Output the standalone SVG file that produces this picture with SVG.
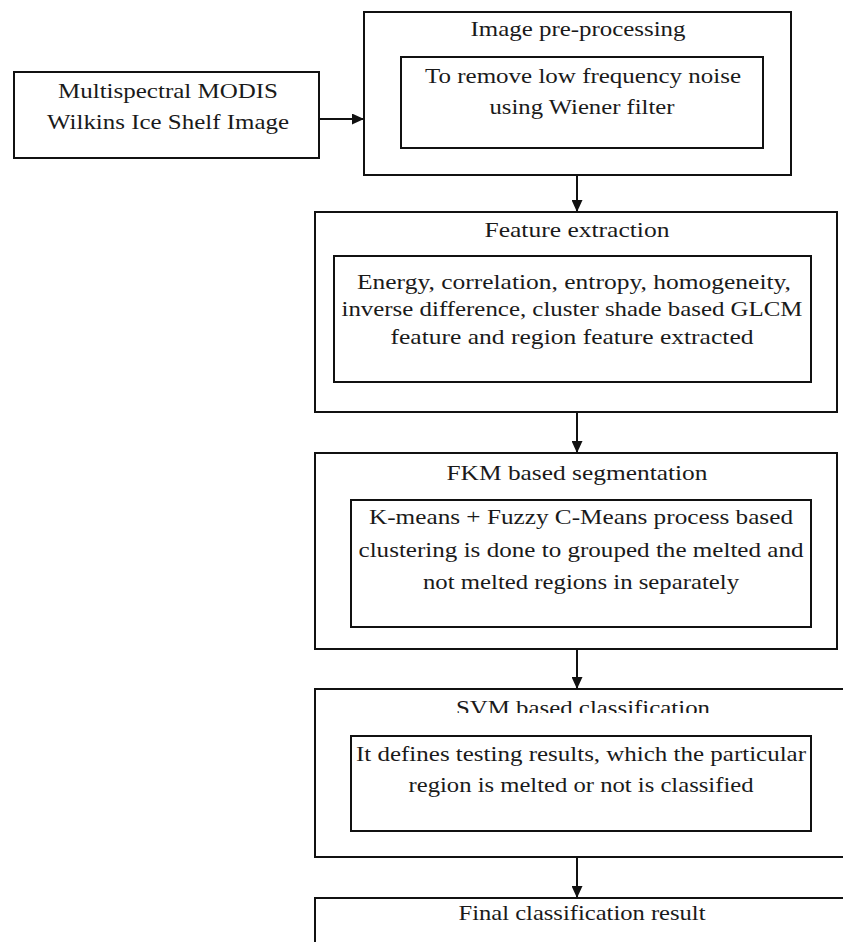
<svg xmlns="http://www.w3.org/2000/svg" width="843" height="942" viewBox="0 0 843 942">
  <style>
    .box { fill: none; stroke: #111; stroke-width: 2; }
    .t { font-family: "Liberation Serif", "Times New Roman", serif; font-size: 22px; fill: #1a1a1a; text-anchor: middle; }
    .edge { stroke: #111; stroke-width: 2; fill: none; }
  </style>
  <defs>
    <marker id="arrow" viewBox="0 0 12 11" refX="12" refY="5.5" markerWidth="12" markerHeight="11" markerUnits="userSpaceOnUse" orient="auto">
      <path d="M0,0 L12,5.5 L0,11 Z" fill="#111"/>
    </marker>
    <clipPath id="svmclip">
      <rect x="315" y="689" width="528" height="24"/>
    </clipPath>
  </defs>
  <rect width="843" height="942" fill="#ffffff"/>

  <g id="input">
    <rect class="box" x="14" y="72" width="305" height="86"/>
    <text class="t" x="168" y="98" textLength="220" lengthAdjust="spacingAndGlyphs">Multispectral MODIS</text>
    <text class="t" x="168" y="129" textLength="242" lengthAdjust="spacingAndGlyphs">Wilkins  Ice Shelf Image</text>
  </g>

  <g id="preprocessing">
    <rect class="box" x="364" y="12" width="427" height="163"/>
    <text class="t" x="578" y="36" textLength="215" lengthAdjust="spacingAndGlyphs">Image pre-processing</text>
    <rect class="box" x="401" y="57" width="362" height="91"/>
    <text class="t" x="583" y="83" textLength="316" lengthAdjust="spacingAndGlyphs">To remove low frequency noise</text>
    <text class="t" x="582" y="114" textLength="185" lengthAdjust="spacingAndGlyphs">using Wiener  filter</text>
  </g>

  <g id="feature-extraction">
    <rect class="box" x="315" y="212" width="522" height="200"/>
    <text class="t" x="577" y="237" textLength="185" lengthAdjust="spacingAndGlyphs">Feature extraction</text>
    <rect class="box" x="334" y="256" width="477" height="126"/>
    <text class="t" x="574" y="289" textLength="434" lengthAdjust="spacingAndGlyphs">Energy, correlation, entropy, homogeneity,</text>
    <text class="t" x="572" y="316" textLength="461" lengthAdjust="spacingAndGlyphs">inverse difference, cluster shade based GLCM</text>
    <text class="t" x="572" y="344" textLength="363" lengthAdjust="spacingAndGlyphs">feature and region feature extracted</text>
  </g>

  <g id="segmentation">
    <rect class="box" x="315" y="453" width="522" height="196"/>
    <text class="t" x="577" y="480" textLength="261" lengthAdjust="spacingAndGlyphs">FKM based segmentation</text>
    <rect class="box" x="351" y="500" width="460" height="127"/>
    <text class="t" x="581" y="524" textLength="424" lengthAdjust="spacingAndGlyphs">K-means + Fuzzy C-Means process based</text>
    <text class="t" x="581" y="557" textLength="445" lengthAdjust="spacingAndGlyphs">clustering is done to grouped the melted and</text>
    <text class="t" x="581" y="589" textLength="316" lengthAdjust="spacingAndGlyphs">not melted regions in separately</text>
  </g>

  <g id="classification">
    <rect class="box" x="315" y="689" width="540" height="168"/>
    <text class="t" x="583" y="715" textLength="254" lengthAdjust="spacingAndGlyphs" clip-path="url(#svmclip)">SVM based classification</text>
    <rect class="box" x="351" y="736" width="460" height="95"/>
    <text class="t" x="581" y="761" textLength="450" lengthAdjust="spacingAndGlyphs">It defines testing results, which the particular</text>
    <text class="t" x="581" y="792" textLength="345" lengthAdjust="spacingAndGlyphs">region is  melted or not is classified</text>
  </g>

  <g id="final-result">
    <rect class="box" x="315" y="898" width="540" height="60"/>
    <text class="t" x="582" y="920" textLength="247" lengthAdjust="spacingAndGlyphs">Final classification result</text>
  </g>

  <g id="connectors">
    <line class="edge" x1="319" y1="119" x2="364" y2="119" marker-end="url(#arrow)"/>
    <line class="edge" x1="577" y1="175" x2="577" y2="212" marker-end="url(#arrow)"/>
    <line class="edge" x1="577" y1="412" x2="577" y2="453" marker-end="url(#arrow)"/>
    <line class="edge" x1="577" y1="649" x2="577" y2="689" marker-end="url(#arrow)"/>
    <line class="edge" x1="577" y1="857" x2="577" y2="898" marker-end="url(#arrow)"/>
  </g>
</svg>
